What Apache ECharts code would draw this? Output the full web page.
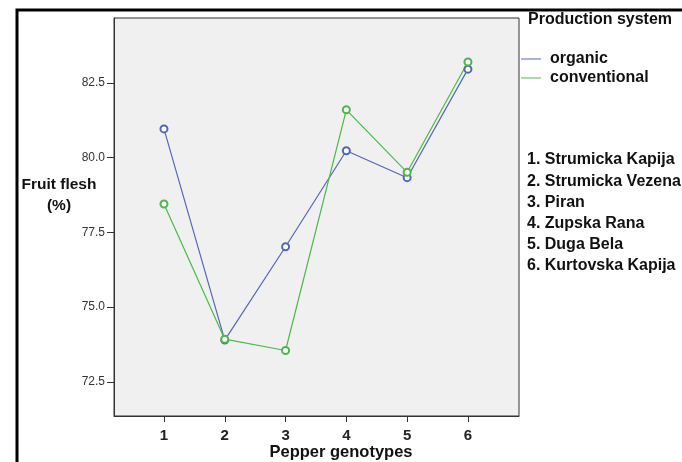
<!DOCTYPE html>
<html>
<head>
<meta charset="utf-8">
<script src="https://cdn.jsdelivr.net/npm/echarts@6/dist/echarts.min.js"></script>
<style>html,body{margin:0;padding:0;background:#fff;}#c{width:682px;height:462px;}</style>
</head>
<body>
<div id="c"></div>
<script>
var genotypes = [1, 2, 3, 4, 5, 6];
var organic = [80.96, 73.90, 77.02, 80.23, 79.33, 82.96];
var conventional = [78.45, 73.93, 73.55, 81.60, 79.51, 83.20];
var yTicks = [72.5, 75.0, 77.5, 80.0, 82.5];
var genotypeNames = ['1. Strumicka Kapija', '2. Strumicka Vezena', '3. Piran', '4. Zupska Rana', '5. Duga Bela', '6. Kurtovska Kapija'];

var FONT = '"Liberation Sans", Arial, sans-serif';
function pairs(vals) { return genotypes.map(function (g, i) { return [g, vals[i]]; }); }

var chart = echarts.init(document.getElementById('c'), null, {renderer: 'canvas'});
var graphics = [
  {type: 'rect', shape: {x: 17, y: 10, width: 800, height: 600}, style: {fill: 'none', stroke: '#000', lineWidth: 3}, z: 10},
  {type: 'text', x: 59, y: 185, style: {text: 'Fruit flesh', font: 'bold 15.5px ' + FONT, fill: '#111', align: 'center', verticalAlign: 'middle'}, z: 10},
  {type: 'text', x: 59, y: 206, style: {text: '(%)', font: 'bold 15.5px ' + FONT, fill: '#111', align: 'center', verticalAlign: 'middle'}, z: 10},
  {type: 'text', x: 528, y: 20, style: {text: 'Production system', font: 'bold 16px ' + FONT, fill: '#111', verticalAlign: 'middle'}, z: 10},
  {type: 'text', x: 341, y: 452, style: {text: 'Pepper genotypes', font: 'bold 16.5px ' + FONT, fill: '#111', align: 'center', verticalAlign: 'middle'}, z: 10}
];
genotypeNames.forEach(function (n, i) {
  graphics.push({type: 'text', x: 527, y: 160 + i * 21.2, style: {text: n, font: 'bold 16px ' + FONT, fill: '#111', verticalAlign: 'middle'}, z: 10});
});

chart.setOption({
  animation: false,
  backgroundColor: '#fff',
  grid: {left: 114, top: 18, width: 405, height: 398, show: true, backgroundColor: '#f0f0f0', borderColor: '#333', borderWidth: 1},
  legend: {
    left: 521, top: 51, orient: 'vertical', itemGap: 3, itemWidth: 20, itemHeight: 14, padding: 0,
    icon: 'path://M0,7 L20,7 L20,8 L0,8 Z',
    textStyle: {fontFamily: FONT, fontWeight: 'bold', fontSize: 16, color: '#111', padding: [0, 0, 0, 4]},
    data: ['organic', 'conventional']
  },
  xAxis: {
    type: 'value', min: 0.178, max: 6.84,
    axisLine: {show: true, lineStyle: {color: '#333'}},
    axisTick: {show: true, customValues: genotypes, length: 6, lineStyle: {color: '#333'}},
    axisLabel: {customValues: genotypes, fontFamily: FONT, fontWeight: 'bold', fontSize: 15, color: '#222', margin: 12},
    splitLine: {show: false}
  },
  yAxis: {
    type: 'value', min: 71.36, max: 84.67,
    axisLine: {show: true, lineStyle: {color: '#333'}},
    axisTick: {show: true, customValues: yTicks, length: 7, lineStyle: {color: '#333'}},
    axisLabel: {customValues: yTicks, fontFamily: FONT, fontSize: 12, color: '#333', margin: 9,
      formatter: function (v) { return v.toFixed(1); }},
    splitLine: {show: false}
  },
  graphic: graphics,
  series: [
    {name: 'organic', type: 'line', data: pairs(organic), color: '#5566b3',
      lineStyle: {width: 1.2, color: '#5566b3'}, symbol: 'emptyCircle', symbolSize: 7,
      itemStyle: {color: '#5566b3', borderWidth: 1}},
    {name: 'conventional', type: 'line', data: pairs(conventional), color: '#4cb84c',
      lineStyle: {width: 1.2, color: '#4cb84c'}, symbol: 'emptyCircle', symbolSize: 7,
      itemStyle: {color: '#4cb84c', borderWidth: 1}}
  ]
});
</script>
</body>
</html>
